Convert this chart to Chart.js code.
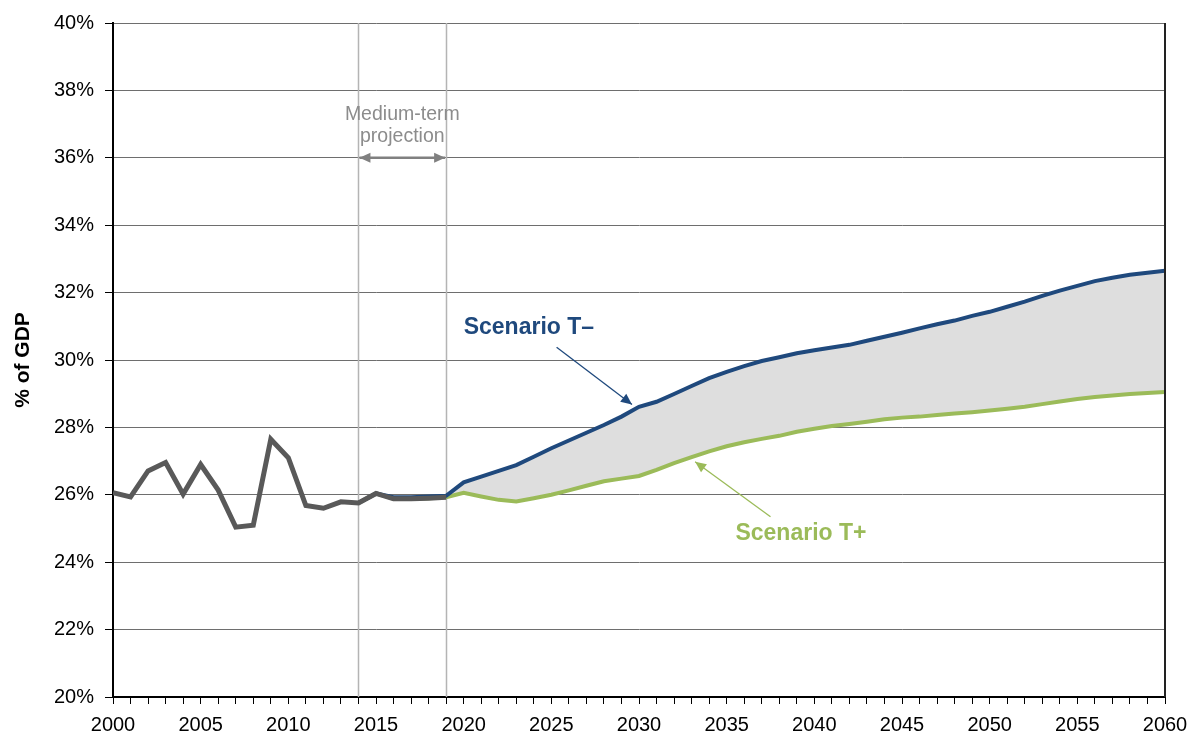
<!DOCTYPE html>
<html>
<head>
<meta charset="utf-8">
<title>% of GDP scenarios</title>
<script src="https://cdn.jsdelivr.net/npm/chart.js@4.4.1/dist/chart.umd.min.js"></script>
<style>
  body { margin: 0; background: #fff; }
  .wrap { width: 1193px; height: 733px; }
</style>
</head>
<body>
<div class="wrap"><canvas id="gdpChart"></canvas></div>
<script>
const firstYear = 2000;
const lastYear = 2060;
const projStart = 2014;

// historical, 2000-2019
const histValues = [26.06, 25.94, 26.71, 26.96, 26.02, 26.90, 26.14, 25.04, 25.10, 27.65,
  27.10, 25.68, 25.60, 25.79, 25.76, 26.04, 25.88, 25.88, 25.90, 25.93];

// scenario T- , 2014-2060
const tMinusValues = [25.76, 26.04, 25.93, 25.93, 25.95, 25.97,
  26.37, 26.54, 26.71, 26.88, 27.13, 27.38, 27.61, 27.84, 28.07, 28.32,
  28.61, 28.76, 28.99, 29.23, 29.46, 29.65, 29.82, 29.97, 30.08, 30.20,
  30.29, 30.37, 30.45, 30.57, 30.69, 30.81, 30.94, 31.06, 31.17, 31.31,
  31.43, 31.58, 31.73, 31.90, 32.06, 32.20, 32.34, 32.44, 32.53, 32.59,
  32.65];

// scenario T+ , 2014-2060
const tPlusValues = [25.76, 26.04, 25.88, 25.88, 25.90, 25.93,
  26.06, 25.95, 25.85, 25.80, 25.90, 26.00, 26.13, 26.27, 26.40, 26.48,
  26.56, 26.74, 26.94, 27.12, 27.29, 27.44, 27.56, 27.66, 27.75, 27.87,
  27.96, 28.04, 28.10, 28.17, 28.24, 28.29, 28.32, 28.37, 28.41, 28.45,
  28.50, 28.55, 28.61, 28.69, 28.77, 28.84, 28.90, 28.95, 28.99, 29.02,
  29.05];

const markerYears = [2014, 2019];
const yTicks = [20, 22, 24, 26, 28, 30, 32, 34, 36, 38, 40];

const toPoints = (values, start) => values.map((v, i) => ({ x: start + i, y: v }));

const BLUE = "#1f497d";
const GREEN = "#9bbb59";
const GREY = "#595959";
const FONT = "'Liberation Sans', Arial, sans-serif";

function arrow(ctx, x1, y1, x2, y2, color, width, bothEnds) {
  ctx.save();
  ctx.strokeStyle = color;
  ctx.fillStyle = color;
  ctx.lineWidth = width;
  ctx.beginPath();
  ctx.moveTo(x1, y1);
  ctx.lineTo(x2, y2);
  ctx.stroke();
  const head = (ax, ay, bx, by) => {
    const a = Math.atan2(by - ay, bx - ax);
    const len = 11, w = 5;
    ctx.beginPath();
    ctx.moveTo(bx, by);
    ctx.lineTo(bx - len * Math.cos(a) + w * Math.sin(a), by - len * Math.sin(a) - w * Math.cos(a));
    ctx.lineTo(bx - len * Math.cos(a) - w * Math.sin(a), by - len * Math.sin(a) + w * Math.cos(a));
    ctx.closePath();
    ctx.fill();
  };
  head(x1, y1, x2, y2);
  if (bothEnds) head(x2, y2, x1, y1);
  ctx.restore();
}

const extras = {
  id: "extras",
  beforeDatasetsDraw(chart) {
    const { ctx, chartArea, scales } = chart;
    ctx.save();
    ctx.strokeStyle = "#b4b4b4";
    ctx.lineWidth = 1.5;
    markerYears.forEach((yr) => {
      const px = Math.round(scales.x.getPixelForValue(yr)) + 0.5;
      ctx.beginPath();
      ctx.moveTo(px, chartArea.top);
      ctx.lineTo(px, chartArea.bottom);
      ctx.stroke();
    });
    ctx.restore();
  },
  afterDatasetsDraw(chart) {
    const { ctx, chartArea, scales } = chart;
    const X = (v) => scales.x.getPixelForValue(v);
    const Y = (v) => scales.y.getPixelForValue(v);

    // right frame
    ctx.save();
    ctx.strokeStyle = "#222";
    ctx.lineWidth = 2;
    ctx.beginPath();
    ctx.moveTo(chartArea.right, chartArea.top);
    ctx.lineTo(chartArea.right, chartArea.bottom);
    ctx.stroke();

    // medium-term note
    ctx.fillStyle = "#8c8c8c";
    ctx.font = "19.5px " + FONT;
    ctx.textAlign = "center";
    ctx.textBaseline = "middle";
    const mid = (markerYears[0] + markerYears[1]) / 2;
    ctx.fillText("Medium-term", X(mid), Y(37.28));
    ctx.fillText("projection", X(mid), Y(36.63));
    ctx.restore();
    arrow(ctx, X(markerYears[0]) + 1, Y(36), X(markerYears[1]) - 1, Y(36), "#808080", 2.5, true);

    // scenario labels
    ctx.save();
    ctx.font = "bold 23px " + FONT;
    ctx.textAlign = "left";
    ctx.textBaseline = "middle";
    ctx.fillStyle = BLUE;
    ctx.fillText("Scenario T\u2013", X(2020), Y(30.95));
    ctx.fillStyle = GREEN;
    ctx.fillText("Scenario T+", X(2035.5), Y(24.85));
    ctx.restore();
    arrow(ctx, X(2025.3), Y(30.38), X(2029.6), Y(28.68), BLUE, 1.3, false);
    arrow(ctx, X(2037.5), Y(25.35), X(2033.2), Y(26.98), GREEN, 1.3, false);
  },
};

const ctx = document.getElementById("gdpChart").getContext("2d");
new Chart(ctx, {
  type: "line",
  data: {
    datasets: [
      {
        label: "Historical",
        data: toPoints(histValues, firstYear),
        borderColor: GREY,
        borderWidth: 5,
        pointRadius: 0,
        fill: false,
      },
      {
        label: "Scenario T-",
        data: toPoints(tMinusValues, projStart),
        borderColor: BLUE,
        borderWidth: 4,
        pointRadius: 0,
        fill: { target: "+1" },
        backgroundColor: "#dedede",
      },
      {
        label: "Scenario T+",
        data: toPoints(tPlusValues, projStart),
        borderColor: GREEN,
        borderWidth: 4,
        pointRadius: 0,
        fill: false,
      },
    ],
  },
  options: {
    responsive: true,
    maintainAspectRatio: false,
    animation: false,
    layout: { padding: { top: 23, right: 28, left: 0, bottom: 0 } },
    plugins: {
      legend: { display: false },
      tooltip: { enabled: false },
      filler: { drawTime: "beforeDatasetsDraw" },
    },
    scales: {
      x: {
        type: "linear",
        min: firstYear,
        max: lastYear,
        afterFit: (s) => { s.height = 36; s.paddingRight = 0; s.paddingLeft = 0; },
        ticks: {
          stepSize: 1,
          autoSkip: false,
          maxRotation: 0,
          padding: 9,
          color: "#000",
          font: { family: FONT, size: 20 },
          callback: (v) => (v % 5 === 0 ? String(v) : ""),
        },
        grid: { drawOnChartArea: false, drawTicks: true, tickLength: 7, color: "#000" },
        border: { color: "#000", width: 2 },
      },
      y: {
        min: yTicks[0],
        max: yTicks[yTicks.length - 1],
        afterFit: (s) => { s.width = 113; },
        afterBuildTicks: (s) => { s.ticks = yTicks.map((v) => ({ value: v })); },
        ticks: {
          padding: 11,
          color: "#000",
          font: { family: FONT, size: 20 },
          callback: (v) => v + "%",
        },
        grid: { color: "#6e6e6e", tickLength: 8, tickColor: "#000" },
        border: { color: "#000", width: 2 },
        title: {
          display: true,
          text: "% of GDP",
          color: "#000",
          font: { family: FONT, size: 21, weight: "bold" },
          padding: { top: 11, bottom: 0 },
        },
      },
    },
  },
  plugins: [extras],
});
</script>
</body>
</html>
